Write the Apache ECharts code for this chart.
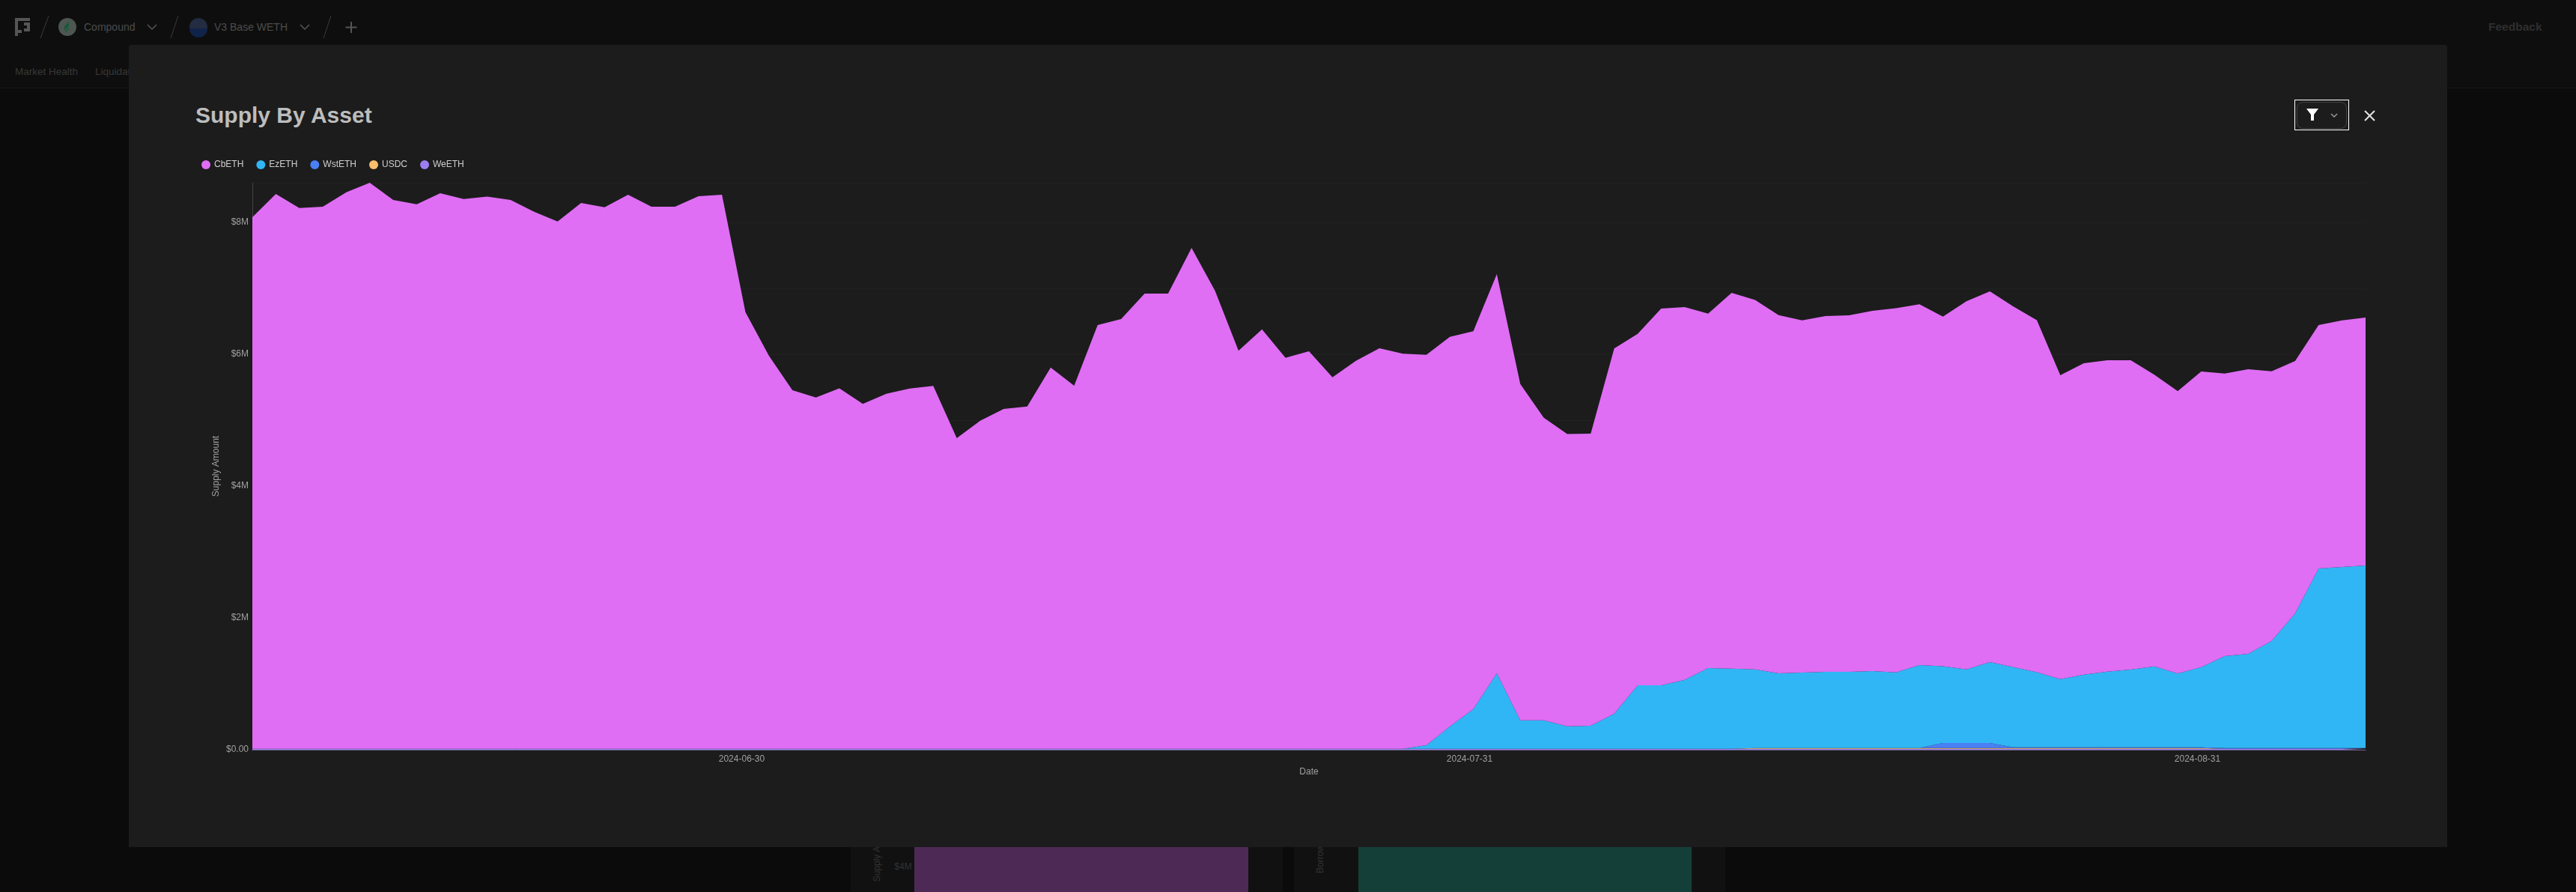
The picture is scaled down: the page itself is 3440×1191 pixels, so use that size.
<!DOCTYPE html>
<html>
<head>
<meta charset="utf-8">
<title>Supply By Asset</title>
<script src="https://cdn.jsdelivr.net/npm/echarts@6/dist/echarts.min.js"></script>
<style>
html,body{margin:0;padding:0;width:3440px;height:1191px;overflow:hidden;background:#0b0b0b;font-family:"Liberation Sans",Arial,sans-serif}
.abs{position:absolute}
.t{position:absolute;white-space:nowrap;line-height:1}
#chart{position:absolute;left:0;top:0;width:3440px;height:1191px;z-index:5}
</style>
</head>
<body>
<div class="abs" style="left:0;top:0;width:3440px;height:117px;background:#0e0e0e"></div>
<div class="abs" style="left:0;top:117px;width:3440px;height:1px;background:#1a1a1a"></div>
<svg class="abs" style="left:0;top:0" width="520" height="70" fill="none" stroke="#3a3a3a" stroke-width="1">
  <path d="M20 24h20v4H24v12h5v4h-5v4h-4zM32 30h8v12h-8v-4h4v-4h-4z" fill="#555" stroke="none"/>
  <path d="M65 21L54 51M238 21L228 51M442 21L432 51"/>
  <circle cx="90" cy="36" r="12" fill="#4d5651" stroke="none"/>
  <path d="M92 29l-6 6v6l6 -6zM92 37l-5 5 1 1 5-5z" fill="#175a3a" stroke="none"/>
  <circle cx="265" cy="36" r="12" fill="#232c40" stroke="none"/>
  <path d="M253 38a12 12 0 0 0 24 0z" fill="#10234a" stroke="none"/>
  <path d="M197 33l6 6 6-6M401 33l6 6 6-6" stroke="#555" stroke-width="1.5"/>
  <path d="M469 29v15M461.5 36.500h15" stroke="#555" stroke-width="2"/>
</svg>
<div class="t" style="left:112px;top:29px;font-size:14px;color:#4c4c4c">Compound</div>
<div class="t" style="left:286px;top:29px;font-size:14px;color:#4c4c4c">V3 Base WETH</div>
<div class="t" style="left:20px;top:89px;font-size:13.500px;color:#383838">Market Health</div>
<div class="t" style="left:127px;top:89px;font-size:13.500px;color:#383838">Liquidations</div>
<div class="t" style="left:3323px;top:28px;font-size:15.500px;font-weight:bold;color:#2e2e2e">Feedback</div>

<div class="abs" style="left:1136px;top:1131px;width:577px;height:60px;background:#111"></div>
<div class="abs" style="left:1728px;top:1131px;width:576px;height:60px;background:#111"></div>
<div class="abs" style="left:1221px;top:1131px;width:446px;height:60px;background:#4d2a56"></div>
<div class="abs" style="left:1814px;top:1131px;width:445px;height:60px;background:#143f38"></div>
<div class="t" style="left:1206px;top:1157px;font-size:12px;color:#333;transform:translate(-50%,-50%)">$4M</div>
<div class="t" style="left:1171px;top:1137px;font-size:12px;color:#333;transform:translate(-50%,-50%) rotate(-90deg)">Supply Amount</div>
<div class="t" style="left:1763px;top:1125px;font-size:12px;color:#333;transform:translate(-50%,-50%) rotate(-90deg)">Borrow Amount</div>

<div class="abs" style="left:172px;top:60px;width:3096px;height:1071px;background:#1c1c1c;border-radius:4px 4px 0 0;z-index:2"></div>
<div class="t" style="left:261px;top:139px;font-size:30px;font-weight:bold;color:#bdbdbd;z-index:3">Supply By Asset</div>
<div class="abs" style="left:3064px;top:133px;width:71px;height:39px;border:1.500px solid #fff;z-index:3"></div>
<div class="abs" style="left:3067px;top:136px;width:65px;height:34px;border:1px solid #444;border-radius:8px;z-index:3"></div>
<svg class="abs" style="left:3060px;top:130px;z-index:4" width="130" height="50" fill="none">
  <path d="M20 15h16l-6 8v8h-4v-8z" fill="#fff"/>
  <path d="M53 22l4 4 4-4" stroke="#999" stroke-width="1.500"/>
  <path d="M98 18l13 13M111 18l-13 13" stroke="#e4e4e4" stroke-width="2"/>
</svg>
<div id="chart"></div>
<script>
const dates = ['2024-06-09','2024-06-10','2024-06-11','2024-06-12','2024-06-13','2024-06-14','2024-06-15','2024-06-16','2024-06-17','2024-06-18','2024-06-19','2024-06-20','2024-06-21','2024-06-22','2024-06-23','2024-06-24','2024-06-25','2024-06-26','2024-06-27','2024-06-28','2024-06-29','2024-06-30','2024-07-01','2024-07-02','2024-07-03','2024-07-04','2024-07-05','2024-07-06','2024-07-07','2024-07-08','2024-07-09','2024-07-10','2024-07-11','2024-07-12','2024-07-13','2024-07-14','2024-07-15','2024-07-16','2024-07-17','2024-07-18','2024-07-19','2024-07-20','2024-07-21','2024-07-22','2024-07-23','2024-07-24','2024-07-25','2024-07-26','2024-07-27','2024-07-28','2024-07-29','2024-07-30','2024-07-31','2024-08-01','2024-08-02','2024-08-03','2024-08-04','2024-08-05','2024-08-06','2024-08-07','2024-08-08','2024-08-09','2024-08-10','2024-08-11','2024-08-12','2024-08-13','2024-08-14','2024-08-15','2024-08-16','2024-08-17','2024-08-18','2024-08-19','2024-08-20','2024-08-21','2024-08-22','2024-08-23','2024-08-24','2024-08-25','2024-08-26','2024-08-27','2024-08-28','2024-08-29','2024-08-30','2024-08-31','2024-09-01','2024-09-02','2024-09-03','2024-09-04','2024-09-05','2024-09-06','2024-09-07'];
const xTickLabels = ['2024-06-30','2024-07-31','2024-08-31'];

// Values in millions of dollars.
const cbETH = [8.064,8.416,8.204,8.223,8.443,8.587,8.326,8.261,8.428,8.340,8.378,8.326,8.148,7.999,8.280,8.215,8.405,8.223,8.223,8.382,8.405,6.624,5.962,5.439,5.329,5.469,5.231,5.386,5.465,5.504,4.712,4.977,5.155,5.193,5.783,5.507,6.428,6.519,6.905,6.905,7.598,6.947,6.038,6.363,5.932,6.030,5.636,5.886,6.076,5.992,5.925,5.914,5.731,6.057,5.103,4.591,4.436,4.432,5.542,5.334,5.717,5.655,5.379,5.701,5.606,5.436,5.345,5.398,5.409,5.467,5.527,5.474,5.303,5.584,5.625,5.470,5.341,4.610,4.724,4.724,4.694,4.425,4.284,4.485,4.288,4.319,4.091,3.829,3.693,3.742,3.761];
const ezETH = [0,0,0,0,0,0,0,0,0,0,0,0,0,0,0,0,0,0,0,0,0,0,0,0,0,0,0,0,0,0,0,0,0,0,0,0,0,0,0,0,0,0,0,0,0,0,0,0,0,0,0.052,0.336,0.602,1.143,0.431,0.431,0.340,0.348,0.530,0.961,0.961,1.045,1.223,1.215,1.193,1.132,1.144,1.155,1.155,1.166,1.147,1.257,1.166,1.117,1.227,1.217,1.141,1.035,1.103,1.149,1.179,1.228,1.119,1.217,1.395,1.429,1.626,2.043,2.725,2.748,2.770];
const wstETH = [0,0,0,0,0,0,0,0,0,0,0,0,0,0,0,0,0,0,0,0,0,0,0,0,0,0,0,0,0,0,0,0,0,0,0,0,0,0,0,0,0,0,0,0,0,0,0,0,0,0,0,0,0,0,0,0,0,0,0,0,0,0,0,0,0,0,0,0,0,0,0,0,0.076,0.076,0.076,0.010,0.010,0.010,0.010,0.010,0.010,0.010,0.010,0.010,0.010,0.010,0.010,0.010,0.010,0.010,0.010];
const usdc = [0,0,0,0,0,0,0,0,0,0,0,0,0,0,0,0,0,0,0,0,0,0,0,0,0,0,0,0,0,0,0,0,0,0,0,0,0,0,0,0,0,0,0,0,0,0,0,0,0,0,0,0,0,0,0,0,0,0,0,0,0,0,0,0,0.011,0.011,0.011,0.011,0.011,0.011,0.011,0.011,0.011,0.011,0.011,0.011,0.011,0.011,0.011,0.011,0.011,0.011,0.011,0.011,0,0,0,0,0,0,0];
const weETH = [0.015,0.015,0.015,0.015,0.015,0.015,0.015,0.015,0.015,0.015,0.015,0.015,0.015,0.015,0.015,0.015,0.015,0.015,0.015,0.015,0.015,0.015,0.015,0.015,0.015,0.015,0.015,0.015,0.015,0.015,0.015,0.015,0.015,0.015,0.015,0.015,0.015,0.015,0.015,0.015,0.015,0.015,0.015,0.015,0.015,0.015,0.015,0.015,0.015,0.015,0.015,0.015,0.015,0.015,0.015,0.015,0.015,0.015,0.015,0.015,0.015,0.015,0.015,0.015,0.015,0.015,0.015,0.015,0.015,0.015,0.015,0.015,0.015,0.015,0.015,0.015,0.015,0.015,0.015,0.015,0.015,0.015,0.015,0.015,0.015,0.015,0.015,0.015,0.015,0.015,0.015];

const legendOrder = ['CbETH','EzETH','WstETH','USDC','WeETH'];
const stackBottomUp = [
  ['WeETH', weETH, '#9b7ef0'],
  ['USDC', usdc, '#fbbf6b'],
  ['WstETH', wstETH, '#4a7ff5'],
  ['EzETH', ezETH, '#31b6f5'],
  ['CbETH', cbETH, '#df6ef4']
];

const chart = echarts.init(document.getElementById('chart'), null, {renderer:'canvas'});
chart.setOption({
  backgroundColor:'transparent',
  animation:false,
  textStyle:{fontFamily:'"Liberation Sans",Arial,sans-serif'},
  legend:{
    left:269, top:214, padding:0, icon:'circle', itemWidth:12, itemHeight:12, itemGap:17,
    data:legendOrder,
    textStyle:{color:'#cfcfcf', fontSize:12, fontFamily:'"Liberation Sans",Arial,sans-serif'}
  },
  grid:{left:337, right:281, top:244, bottom:190, containLabel:false},
  xAxis:{
    type:'category', boundaryGap:false, data:dates,
    name:'Date', nameLocation:'middle', nameGap:24,
    nameTextStyle:{color:'#a0a0a0', fontSize:12},
    axisLine:{show:true, lineStyle:{color:'#6f6497', width:1}},
    axisTick:{show:false}, splitLine:{show:false},
    axisLabel:{
      color:'#a0a0a0', fontSize:12, margin:7, padding:[0,10,0,0],
      interval:(i, v) => xTickLabels.includes(v)
    }
  },
  yAxis:{
    type:'value', min:0, max:'dataMax', interval:1,
    name:'Supply Amount', nameLocation:'middle', nameGap:42, nameMoveOverlap:false,
    nameTextStyle:{color:'#a0a0a0', fontSize:12},
    axisLine:{show:true, lineStyle:{color:'#444', width:1}},
    axisTick:{show:false},
    splitLine:{show:true, lineStyle:{color:'#212121', width:1}},
    axisLabel:{
      color:'#a0a0a0', fontSize:12, margin:5, padding:[3,0,0,0], showMaxLabel:false,
      formatter:v => v===0 ? '$0.00' : (v%2===0 ? '$'+v+'M' : '')
    }
  },
  series:stackBottomUp.map(([name, vals, color]) => ({
    name, type:'line', stack:'supply', showSymbol:false, symbol:'circle', smooth:false,
    itemStyle:{color},
    lineStyle:{width:0, color},
    areaStyle:{color, opacity:1},
    data:vals
  }))
});
</script>
</body>
</html>
